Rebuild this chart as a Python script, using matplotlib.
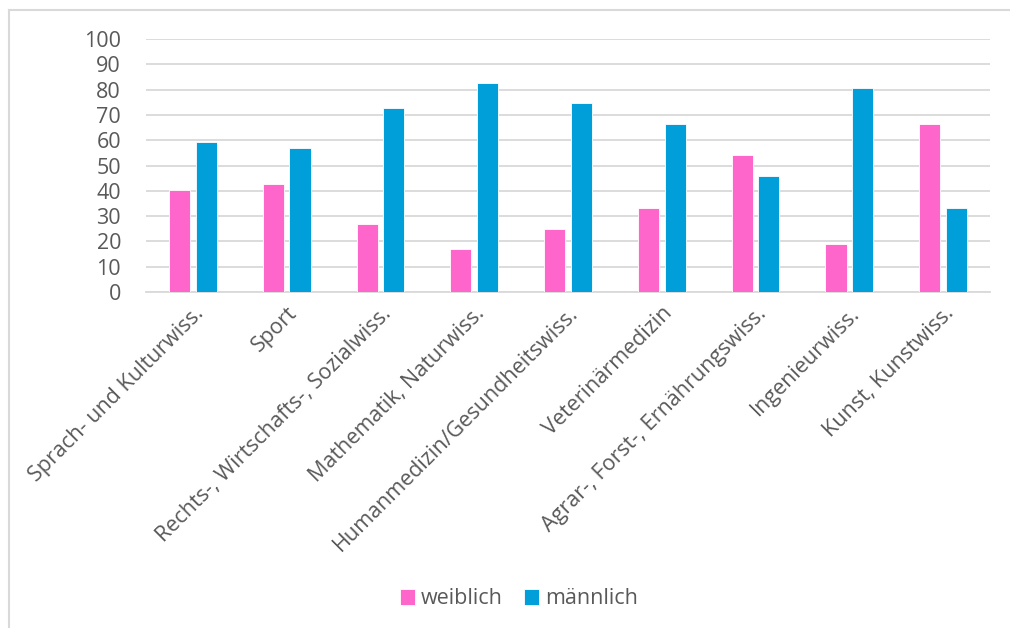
import matplotlib
matplotlib.use("Agg")
import matplotlib.pyplot as plt
import numpy as np
from matplotlib.lines import Line2D

categories = [
    "Sprach- und Kulturwiss.",
    "Sport",
    "Rechts-, Wirtschafts-, Sozialwiss.",
    "Mathematik, Naturwiss.",
    "Humanmedizin/Gesundheitswiss.",
    "Veterinärmedizin",
    "Agrar-, Forst-, Ernährungswiss.",
    "Ingenieurwiss.",
    "Kunst, Kunstwiss.",
]
weiblich = [40.2, 42.7, 26.9, 17.0, 24.8, 33.1, 54.0, 18.9, 66.4]
maennlich = [59.2, 57.1, 72.7, 82.6, 74.8, 66.4, 45.8, 80.7, 33.1]
yticks = [0, 10, 20, 30, 40, 50, 60, 70, 80, 90, 100]

pink = "#ff66cc"
blue = "#009fd9"
text_grey = "#595959"
grid_grey = "#d9d9d9"

plt.rcParams["font.family"] = ["Open Sans", "DejaVu Sans"]
fs = 15.5

W, H = 1010, 628
fig = plt.figure(figsize=(W / 100, H / 100), dpi=100)
ax = fig.add_axes([146 / W, 1 - 292 / H, (990 - 146) / W, (292 - 39) / H])

x = np.arange(len(categories))
bw = 0.225
off = 0.142
ax.bar(x - off, weiblich, bw, color=pink, edgecolor="white", linewidth=0.6, label="weiblich", zorder=3)
ax.bar(x + off, maennlich, bw, color=blue, edgecolor="white", linewidth=0.6, label="männlich", zorder=3)

ax.set_xlim(-0.5, len(categories) - 0.5)
ax.set_ylim(0, 100)
ax.set_yticks(yticks)
ax.set_yticklabels([str(v) for v in yticks], fontsize=fs, color=text_grey)
ax.yaxis.grid(True, color=grid_grey, linewidth=1.3, zorder=0)
ax.tick_params(axis="y", length=0, pad=18)
ax.tick_params(axis="x", length=0, pad=8)
ax.set_xticks(x)
ax.set_xticklabels(categories, rotation=45, ha="right", rotation_mode="anchor",
                   fontsize=fs, color=text_grey)
for s in ["top", "right", "left"]:
    ax.spines[s].set_visible(False)
ax.spines["bottom"].set_color(grid_grey)
ax.spines["bottom"].set_linewidth(1.3)

leg = fig.legend(loc="center", bbox_to_anchor=(519 / W, 1 - 599 / H), ncol=2, frameon=False,
                 fontsize=fs, handlelength=0.7, handleheight=0.7, handletextpad=0.25,
                 columnspacing=1.0)
for t in leg.get_texts():
    t.set_color(text_grey)

# outer frame (left and top edges)
fig.add_artist(Line2D([8.5 / W, 8.5 / W], [0, 1 - 9.5 / H], transform=fig.transFigure,
                      color="#d9d9d9", linewidth=1.5))
fig.add_artist(Line2D([8.5 / W, 1], [1 - 9.5 / H, 1 - 9.5 / H], transform=fig.transFigure,
                      color="#d9d9d9", linewidth=1.5))

fig.savefig("out.png", dpi=100, facecolor="white")
